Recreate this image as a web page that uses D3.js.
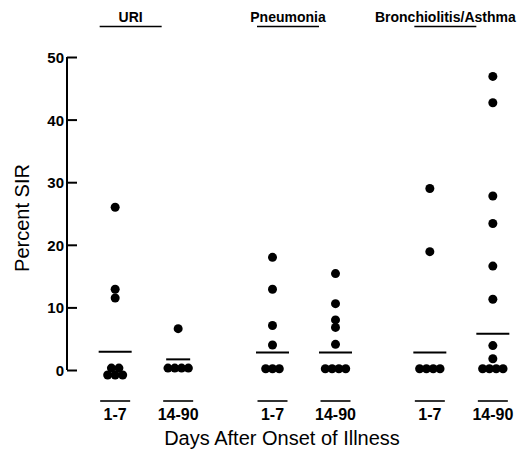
<!DOCTYPE html>
<meta charset="utf-8">
<script src="https://d3js.org/d3.v7.min.js"></script>
<style>
  body { margin: 0; background: #fff; }
  text { font-family: "Liberation Sans", Arial, sans-serif; fill: #000; }
</style>
<body>
<script>
// Categories
const diseases = ["URI", "Pneumonia", "Bronchiolitis/Asthma"];
const periods = ["1-7", "14-90"];
const yTicks = [0, 10, 20, 30, 40, 50];

// Percent SIR per patient (one array per disease / period)
const uri_1_7 = [26, 12.9, 11.5, 0.3, 0.3, -0.8, -0.8, -0.8];
const uri_14_90 = [6.6, 0.3, 0.3, 0.3, 0.3];
const pneu_1_7 = [18, 12.9, 7.1, 4, 0.2, 0.2, 0.2];
const pneu_14_90 = [15.4, 10.6, 8, 6.8, 4.1, 0.2, 0.2, 0.2, 0.2];
const ba_1_7 = [29, 18.9, 0.2, 0.2, 0.2, 0.2];
const ba_14_90 = [46.9, 42.7, 27.8, 23.4, 16.6, 11.3, 3.9, 1.8, 0.2, 0.2, 0.2, 0.2];

// Horizontal bar in each column (group summary value)
const summary = [2.9, 1.7, 2.8, 2.8, 2.8, 5.8];

const cells = [
  {disease: "URI", period: "1-7", values: uri_1_7},
  {disease: "URI", period: "14-90", values: uri_14_90},
  {disease: "Pneumonia", period: "1-7", values: pneu_1_7},
  {disease: "Pneumonia", period: "14-90", values: pneu_14_90},
  {disease: "Bronchiolitis/Asthma", period: "1-7", values: ba_1_7},
  {disease: "Bronchiolitis/Asthma", period: "14-90", values: ba_14_90}
];
cells.forEach((c, i) => c.summary = summary[i]);

const width = 530, height = 449;
const svg = d3.select("body").append("svg")
  .attr("width", width)
  .attr("height", height);

// scales
const y = d3.scaleLinear().domain([0, 50]).range([370, 57]);
const xGroup = d3.scaleBand().domain(diseases).range([68, 540]);
const xPeriod = d3.scalePoint().domain(periods)
  .range([xGroup.bandwidth() / 2 - 31.5, xGroup.bandwidth() / 2 + 31.5]);
const cx = (d, p) => xGroup(d) + xPeriod(p);

// y axis: ticks point inward
const yAxis = d3.axisRight(y).tickValues(yTicks).tickSize(10).tickFormat(d3.format("d"));
const ax = svg.append("g").attr("transform", "translate(67,0)").call(yAxis);
ax.select(".domain").attr("d", `M0,${y(50)}V${y(0)}`).attr("stroke", "#000").attr("stroke-width", 2);
ax.selectAll(".tick line").attr("stroke", "#000").attr("stroke-width", 2);
ax.selectAll(".tick text")
  .attr("x", -3).attr("dy", "0.36em")
  .attr("text-anchor", "end")
  .style("font-size", "15px").style("font-weight", "bold");

// y title
svg.append("text")
  .attr("transform", "translate(29,218) rotate(-90)")
  .attr("text-anchor", "middle")
  .style("font-size", "20px")
  .text("Percent SIR");

// disease headers with underline
const head = svg.selectAll(".head").data(diseases).enter().append("g")
  .attr("transform", d => `translate(${xGroup(d) + xGroup.bandwidth() / 2 - 16},0)`);
head.append("text")
  .attr("y", 22)
  .attr("text-anchor", "middle")
  .style("font-size", "14px").style("font-weight", "bold")
  .text(d => d);
head.append("line")
  .attr("x1", -31).attr("x2", 31)
  .attr("y1", 26.5).attr("y2", 26.5)
  .attr("stroke", "#000").attr("stroke-width", 1.6);

// columns
const col = svg.selectAll(".col").data(cells).enter().append("g")
  .attr("transform", d => `translate(${cx(d.disease, d.period)},0)`);

// dots: equal values sit side by side
const spacing = d => d.disease === "URI" && d.period === "1-7" ? 7.5 : 6.8;
col.each(function (c) {
  const counts = d3.rollup(c.values, v => v.length, v => v);
  const seen = new Map();
  const pts = c.values.map(v => {
    const n = counts.get(v), i = seen.get(v) || 0;
    seen.set(v, i + 1);
    return {v: v, dx: (i - (n - 1) / 2) * spacing(c)};
  });
  d3.select(this).selectAll("circle").data(pts).enter().append("circle")
    .attr("cx", d => d.dx)
    .attr("cy", d => y(d.v))
    .attr("r", 4.5)
    .attr("fill", "#000");
});

// summary bars
col.append("line")
  .attr("x1", d => d.disease === "URI" && d.period === "14-90" ? -12 : -16.5)
  .attr("x2", d => d.disease === "URI" && d.period === "14-90" ? 12 : 16.5)
  .attr("y1", d => y(d.summary)).attr("y2", d => y(d.summary))
  .attr("stroke", "#000").attr("stroke-width", 2);

// category rule and label at the bottom
col.append("line")
  .attr("x1", -15).attr("x2", 15)
  .attr("y1", 401).attr("y2", 401)
  .attr("stroke", "#000").attr("stroke-width", 1.6);
col.append("text")
  .attr("y", 420)
  .attr("text-anchor", "middle")
  .style("font-size", "16px").style("font-weight", "bold")
  .text(d => d.period);

// x title
svg.append("text")
  .attr("x", 282).attr("y", 445)
  .attr("text-anchor", "middle")
  .style("font-size", "20px")
  .text("Days After Onset of Illness");
</script>
</body>
</html>
